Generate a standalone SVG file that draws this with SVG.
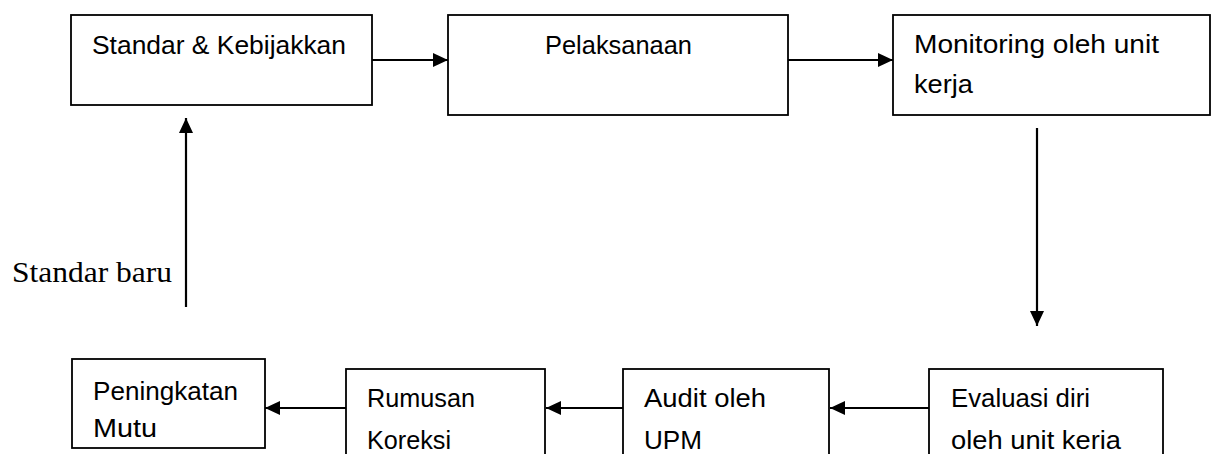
<svg xmlns="http://www.w3.org/2000/svg" width="1213" height="454" viewBox="0 0 1213 454">
  <defs>
    <marker id="arrow" viewBox="0 0 15 14" refX="15" refY="7" markerWidth="15" markerHeight="14" markerUnits="userSpaceOnUse" orient="auto">
      <path d="M0,0 L15,7 L0,14 Z" fill="#000"/>
    </marker>
    <style>
      .box { fill: #fff; stroke: #000; stroke-width: 1.8; }
      .lbl { font-family: "Liberation Sans", Arial, sans-serif; font-size: 26px; fill: #000; }
      .serif { font-family: "Liberation Serif", "Times New Roman", serif; font-size: 30px; fill: #000; }
      .conn { stroke: #000; stroke-width: 2.2; fill: none; marker-end: url(#arrow); }
    </style>
  </defs>
  <rect width="1213" height="454" fill="#fff"/>

  <g id="connectors">
    <line class="conn" x1="372" y1="60" x2="448" y2="60"/>
    <line class="conn" x1="788" y1="60" x2="893" y2="60"/>
    <line class="conn" x1="1037" y1="128" x2="1037" y2="326"/>
    <line class="conn" x1="929" y1="408" x2="830" y2="408"/>
    <line class="conn" x1="623" y1="408" x2="546" y2="408"/>
    <line class="conn" x1="346" y1="408" x2="265" y2="408"/>
    <line class="conn" x1="186" y1="307" x2="186" y2="118"/>
  </g>

  <g id="node-standar">
    <rect class="box" x="71" y="15" width="301" height="90"/>
    <text class="lbl" x="92" y="54" textLength="254" lengthAdjust="spacingAndGlyphs">Standar &amp; Kebijakkan</text>
  </g>

  <g id="node-pelaksanaan">
    <rect class="box" x="448" y="15" width="340" height="100"/>
    <text class="lbl" x="545" y="54" textLength="147" lengthAdjust="spacingAndGlyphs">Pelaksanaan</text>
  </g>

  <g id="node-monitoring">
    <rect class="box" x="893" y="15" width="317" height="100"/>
    <text class="lbl" x="914" y="53" textLength="245" lengthAdjust="spacingAndGlyphs">Monitoring oleh unit</text>
    <text class="lbl" x="914" y="93" textLength="59" lengthAdjust="spacingAndGlyphs">kerja</text>
  </g>

  <g id="node-evaluasi">
    <rect class="box" x="929" y="369" width="234" height="110"/>
    <text class="lbl" x="951" y="407" textLength="139" lengthAdjust="spacingAndGlyphs">Evaluasi diri</text>
    <text class="lbl" x="951" y="449" textLength="170" lengthAdjust="spacingAndGlyphs">oleh unit keria</text>
  </g>

  <g id="node-audit">
    <rect class="box" x="623" y="369" width="206" height="110"/>
    <text class="lbl" x="644" y="407" textLength="122" lengthAdjust="spacingAndGlyphs">Audit oleh</text>
    <text class="lbl" x="644" y="449" textLength="58" lengthAdjust="spacingAndGlyphs">UPM</text>
  </g>

  <g id="node-rumusan">
    <rect class="box" x="346" y="369" width="199" height="110"/>
    <text class="lbl" x="367" y="407" textLength="108" lengthAdjust="spacingAndGlyphs">Rumusan</text>
    <text class="lbl" x="367" y="449" textLength="84" lengthAdjust="spacingAndGlyphs">Koreksi</text>
  </g>

  <g id="node-peningkatan">
    <rect class="box" x="72" y="359" width="193" height="89"/>
    <text class="lbl" x="93" y="400" textLength="145" lengthAdjust="spacingAndGlyphs">Peningkatan</text>
    <text class="lbl" x="93" y="437" textLength="64" lengthAdjust="spacingAndGlyphs">Mutu</text>
  </g>

  <g id="label-standar-baru">
    <text class="serif" x="12" y="282" textLength="160" lengthAdjust="spacingAndGlyphs">Standar baru</text>
  </g>
</svg>
